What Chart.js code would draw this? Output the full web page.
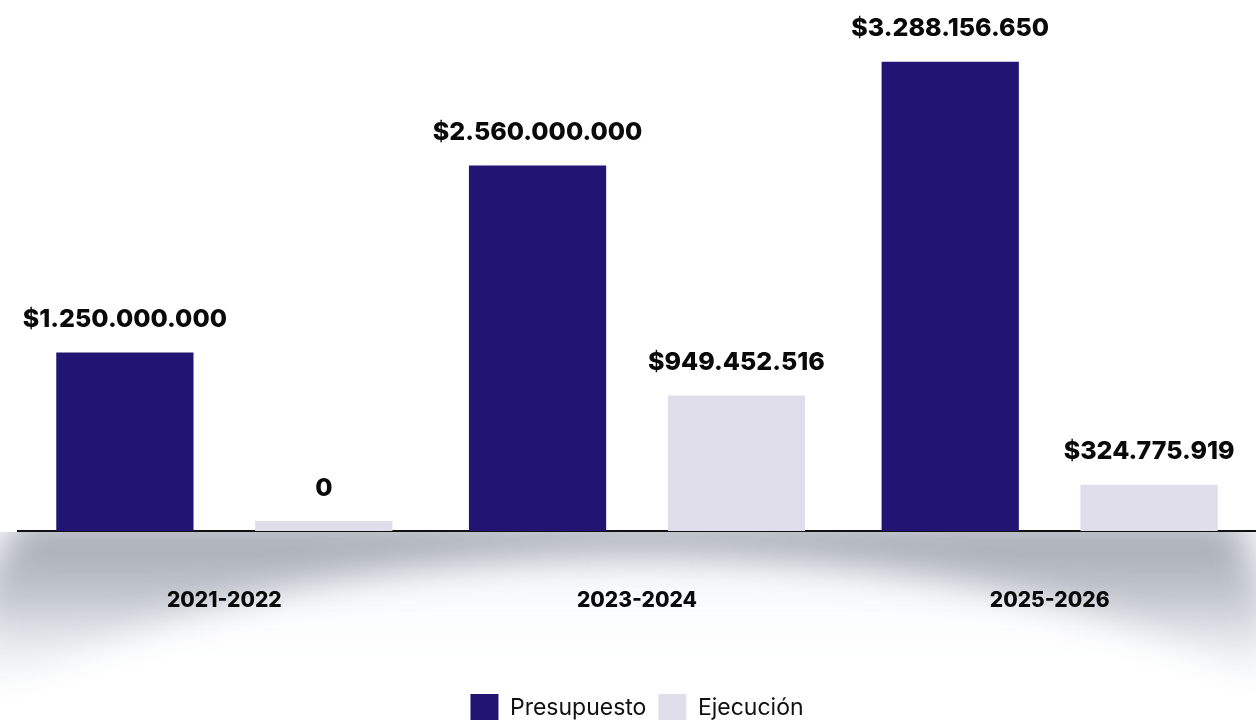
<!DOCTYPE html>
<html lang="es">
<head>
<meta charset="utf-8">
<title>Presupuesto y ejecución</title>
<script src="https://cdn.jsdelivr.net/npm/chart.js@4/dist/chart.umd.min.js"></script>
<style>
  html, body { margin: 0; padding: 0; background: #fff; }
  #wrap { position: relative; width: 1256px; height: 720px; }
</style>
</head>
<body>
<div id="wrap"><canvas id="budget-chart"></canvas></div>
<script>
// periodos y valores
var periodos = ["2021-2022", "2023-2024", "2025-2026"];
var presupuesto = [1250000000, 2560000000, 3288156650];
var ejecucion = [0, 949452516, 324775919];

var NAVY = "#211473";
var LILA = "#dfdeea";
var FONT = "Inter, 'DejaVu Sans', sans-serif";

function formatoPesos(v) {
	if (v === 0) return "0";
	return "$" + String(v).replace(/\B(?=(\d{3})+(?!\d))/g, ".");
}

// sombra gris bajo la línea base, con un arco blanco al centro
var sombraBase = {
	id: "sombraBase",
	beforeDraw: function (chart) {
		var ctx = chart.ctx;
		var base = chart.chartArea.bottom;
		var w = chart.width, h = chart.height;
		ctx.save();
		ctx.beginPath();
		ctx.rect(0, base + 1, w, h - base);
		ctx.clip();

		// tinte azulado muy suave
		ctx.filter = "blur(24px)";
		var t = ctx.createLinearGradient(0, base, 0, base + 130);
		t.addColorStop(0, "rgba(225,229,239,0.45)");
		t.addColorStop(1, "rgba(236,239,245,0)");
		ctx.fillStyle = t;
		ctx.fillRect(-40, base - 20, w + 80, 150);

		// banda gris
		ctx.filter = "blur(17px)";
		var g = ctx.createLinearGradient(0, base, 0, base + 165);
		g.addColorStop(0, "rgba(164,169,178,1)");
		g.addColorStop(0.4, "rgba(188,193,202,0.9)");
		g.addColorStop(0.75, "rgba(214,218,226,0.4)");
		g.addColorStop(1, "rgba(228,231,237,0)");
		ctx.fillStyle = g;
		ctx.beginPath();
		ctx.moveTo(22, base - 10);
		ctx.lineTo(1236, base - 10);
		ctx.lineTo(1270, 610);
		ctx.lineTo(1270, 780);
		ctx.lineTo(-20, 780);
		ctx.lineTo(-20, 585);
		ctx.closePath();
		ctx.ellipse(640, 852, 760, 297, 0, 0, Math.PI * 2);
		ctx.fill("evenodd");
		ctx.restore();
	}
};

// etiquetas de valor encima de cada barra
var etiquetas = {
	id: "etiquetas",
	afterDatasetsDraw: function (chart) {
		var ctx = chart.ctx;
		ctx.save();
		ctx.font = "800 25px " + FONT;
		ctx.fillStyle = "#0a0a0a";
		ctx.textAlign = "center";
		ctx.textBaseline = "middle";
		chart.data.datasets.forEach(function (ds, i) {
			chart.getDatasetMeta(i).data.forEach(function (bar, j) {
				ctx.fillText(formatoPesos(ds.data[j]), bar.x, bar.y - 33);
			});
		});
		ctx.restore();
	}
};

var ctx = document.getElementById("budget-chart").getContext("2d");
var chart = new Chart(ctx, {
	type: "bar",
	data: {
		labels: periodos,
		datasets: [
			{
				label: "Presupuesto",
				data: presupuesto,
				backgroundColor: NAVY,
				borderWidth: 0,
			},
			{
				label: "Ejecución",
				data: ejecucion,
				backgroundColor: LILA,
				borderWidth: 0,
				minBarLength: 10,
			},
		],
	},
	options: {
		responsive: true,
		maintainAspectRatio: false,
		animation: false,
		layout: {
			padding: { left: 18, right: 0, top: 0, bottom: -12 },
		},
		datasets: {
			bar: {
				categoryPercentage: 0.964,
				barPercentage: 0.69,
			},
		},
		scales: {
			x: {
				grid: { display: false, drawTicks: false },
				border: { display: true, color: "#111", width: 2 },
				ticks: {
					padding: 57,
					color: "#0a0a0a",
					font: { family: FONT, size: 21, weight: "800" },
				},
				afterFit: function (scale) {
					scale.height = 151;
				},
			},
			y: {
				display: false,
				min: 0,
				max: 3720000000,
			},
		},
		plugins: {
			tooltip: { enabled: false },
			legend: {
				position: "bottom",
				labels: {
					boxWidth: 28,
					boxHeight: 28,
					padding: 12,
					color: "#111",
					font: { family: FONT, size: 23 },
				},
			},
		},
	},
	plugins: [sombraBase, etiquetas],
});
</script>
</body>
</html>
